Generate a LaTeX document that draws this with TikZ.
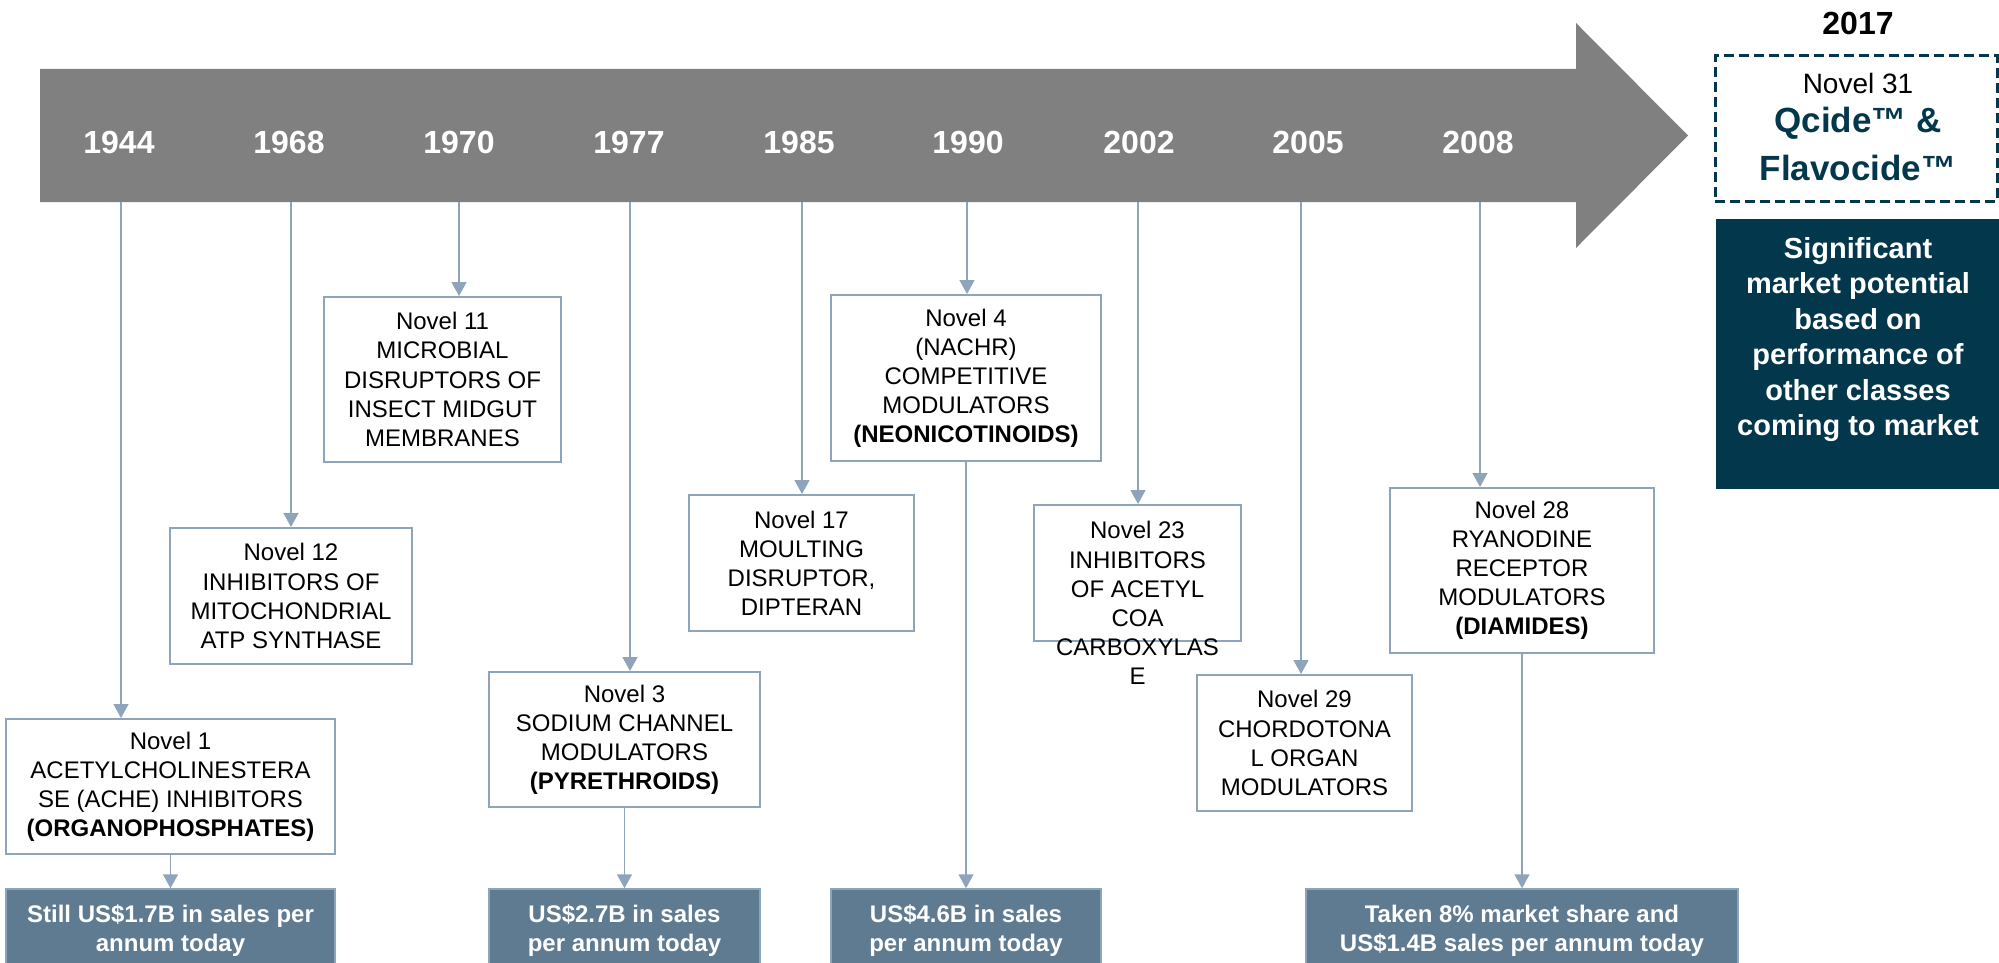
\documentclass[tikz,border=0pt]{standalone}
\usepackage{fontspec}
\setmainfont{Liberation Sans}
\usetikzlibrary{arrows.meta}
\definecolor{arrowgray}{HTML}{808080}
\definecolor{linecol}{HTML}{8DA4BA}
\definecolor{salefill}{HTML}{5E7B91}
\definecolor{navy}{HTML}{03374B}
\begin{document}
\begin{tikzpicture}[x=1pt,y=-1pt,
  conn/.style={draw=linecol, line width=1.5pt, -{Triangle[length=14pt,width=15pt]}},
  nbox/.style={draw=linecol, line width=2pt, fill=white, inner sep=0pt, align=center,
    font=\fontsize{24}{29.1}\selectfont, text=black},
  sbox/.style={draw=linecol, line width=1.5pt, fill=salefill, inner sep=0pt, align=center,
    font=\fontsize{24}{29}\selectfont\bfseries, text=white, minimum height=84pt},
  year/.style={font=\fontsize{32}{38}\selectfont\bfseries, text=white, inner sep=0pt},
]
\path[clip] (0,0) rectangle (1999,963);
\fill[white] (0,0) rectangle (1999,963);

% timeline arrow
\fill[arrowgray] (40,69) -- (1576,69) -- (1576,23) -- (1688,135.5) -- (1576,248) -- (1576,202) -- (40,202) -- cycle;

% years
\node[year] (y1944) at (119,142) {1944};
\node[year] (y1968) at (289,142) {1968};
\node[year] (y1970) at (459,142) {1970};
\node[year] (y1977) at (629,142) {1977};
\node[year] (y1985) at (799,142) {1985};
\node[year] (y1990) at (968,142) {1990};
\node[year] (y2002) at (1139,142) {2002};
\node[year] (y2005) at (1308,142) {2005};
\node[year] (y2008) at (1478,142) {2008};

\coordinate (t1944) at (121,202);
\coordinate (t1968) at (291,202);
\coordinate (t1970) at (459,202);
\coordinate (t1977) at (630,202);
\coordinate (t1985) at (802,202);
\coordinate (t1990) at (967,202);
\coordinate (t2002) at (1138,202);
\coordinate (t2005) at (1301,202);
\coordinate (t2008) at (1480,202);

% class boxes
\node[nbox, minimum width=329pt, minimum height=135pt] (b1) at (170.5,786.5)
  {Novel 1\\ACETYLCHOLINESTERA\\SE (ACHE) INHIBITORS\\\textbf{(ORGANOPHOSPHATES)}};
\node[nbox, minimum width=242pt, minimum height=136pt] (b12) at (291,596)
  {Novel 12\\INHIBITORS OF\\MITOCHONDRIAL\\ATP SYNTHASE};
\node[nbox, minimum width=237pt, minimum height=165pt] (b11) at (442.5,379.5)
  {Novel 11\\MICROBIAL\\DISRUPTORS OF\\INSECT MIDGUT\\MEMBRANES};
\node[nbox, minimum width=271pt, minimum height=135pt] (b3) at (624.5,739.5)
  {Novel 3\\SODIUM CHANNEL\\MODULATORS\\\textbf{(PYRETHROIDS)}};
\node[nbox, minimum width=225pt, minimum height=136pt] (b17) at (801.5,563)
  {Novel 17\\MOULTING\\DISRUPTOR,\\DIPTERAN};
\node[nbox, minimum width=270pt, minimum height=166pt] (b4) at (966,378)
  {Novel 4\\(NACHR)\\COMPETITIVE\\MODULATORS\\\textbf{(NEONICOTINOIDS)}};
\node[nbox, minimum width=207pt, minimum height=136pt] (b23) at (1137.5,573) {};
\node[align=center, inner sep=0pt, font=\fontsize{24}{29.1}\selectfont, text=black] (b23t) at (1137.5,603)
  {Novel 23\\INHIBITORS\\OF ACETYL\\COA\\CARBOXYLAS\\E};
\node[nbox, minimum width=215pt, minimum height=136pt] (b29) at (1304.5,743)
  {Novel 29\\CHORDOTONA\\L ORGAN\\MODULATORS};
\node[nbox, minimum width=264pt, minimum height=165pt] (b28) at (1522,570.5)
  {Novel 28\\RYANODINE\\RECEPTOR\\MODULATORS\\\textbf{(DIAMIDES)}};

% sales boxes
\node[sbox, minimum width=329pt] (s1) at (170.5,931) {Still US\$1.7B in sales per\\annum today};
\node[sbox, minimum width=271pt] (s2) at (624.5,931) {US\$2.7B in sales\\per annum today};
\node[sbox, minimum width=270pt] (s3) at (966,931) {US\$4.6B in sales\\per annum today};
\node[sbox, minimum width=432pt] (s4) at (1522,931) {Taken 8\% market share and\\US\$1.4B sales per annum today};

% 2017 panel
\node[font=\fontsize{32}{38}\selectfont\bfseries, text=black, inner sep=0pt] (y2017) at (1858,23) {2017};
\node[draw=navy, line width=3pt, dash pattern=on 10pt off 5pt, minimum width=282pt, minimum height=145pt, inner sep=0pt] (q) at (1856,128.5) {};
\node[font=\fontsize{28}{34}\selectfont, text=black, inner sep=0pt] (q31) at (1858,83) {Novel 31};
\node[font=\fontsize{35}{42}\selectfont\bfseries, text=navy, inner sep=0pt] (qc) at (1858,123) {Qcide™ \&};
\node[font=\fontsize{35}{42}\selectfont\bfseries, text=navy, inner sep=0pt] (qf) at (1858,168) {Flavocide™};
\node[fill=navy, minimum width=283pt, minimum height=270pt, inner sep=0pt] (d) at (1857.5,354) {};
\node[font=\fontsize{29}{35.4}\selectfont\bfseries, text=white, align=center, inner sep=0pt] (dt) at (1858,339.5)
  {Significant\\market potential\\based on\\performance of\\other classes\\coming to market};

% connectors
\draw[conn] (t1944) -- (t1944 |- b1.north);
\draw[conn] (t1968) -- (t1968 |- b12.north);
\draw[conn] (t1970) -- (t1970 |- b11.north);
\draw[conn] (t1977) -- (t1977 |- b3.north);
\draw[conn] (t1985) -- (t1985 |- b17.north);
\draw[conn] (t1990) -- (t1990 |- b4.north);
\draw[conn] (t2002) -- (t2002 |- b23.north);
\draw[conn] (t2005) -- (t2005 |- b29.north);
\draw[conn] (t2008) -- (t2008 |- b28.north);
\draw[conn] (b1.south) -- (s1.north);
\draw[conn] (b3.south) -- (s2.north);
\draw[conn] (b4.south) -- (s3.north);
\draw[conn] (b28.south) -- (s4.north);
\end{tikzpicture}
\end{document}
